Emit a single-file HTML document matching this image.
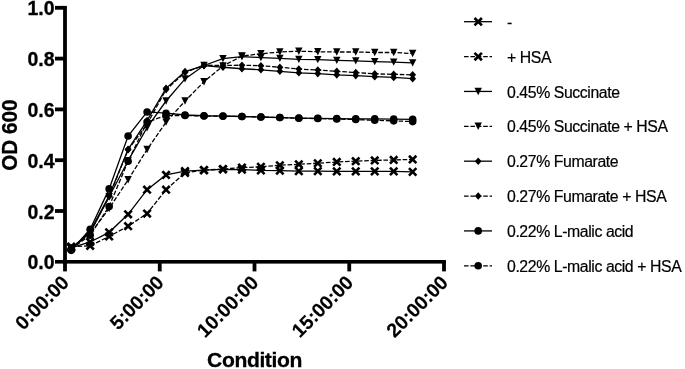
<!DOCTYPE html>
<html><head><meta charset="utf-8"><title>OD 600 growth curves</title>
<style>html,body{margin:0;padding:0;background:#fff}body{width:685px;height:369px;overflow:hidden}svg{display:block}text{font-family:"Liberation Sans",Arial,Helvetica,sans-serif;fill:#000}.tk{font-weight:bold;font-size:19.5px;stroke:#000;stroke-width:0.3px}.tt{font-weight:bold;font-size:21.5px;stroke:#000;stroke-width:0.3px;letter-spacing:-0.4px}.lg{font-size:15.8px;letter-spacing:-0.4px;stroke:#000;stroke-width:0.2px}.xt{font-weight:bold;font-size:19.5px;stroke:#000;stroke-width:0.15px;letter-spacing:-0.1px}</style></head><body>
<svg width="685" height="369" viewBox="0 0 685 369">
<rect width="685" height="369" fill="#fff"/>
<g fill="#000">
<rect x="63.1" y="5.9" width="3.8" height="265.5"/>
<rect x="63.1" y="260" width="382.8" height="3.6"/>
<rect x="55" y="209.10" width="9" height="3.8"/>
<rect x="55" y="158.30" width="9" height="3.8"/>
<rect x="55" y="107.50" width="9" height="3.8"/>
<rect x="55" y="56.70" width="9" height="3.8"/>
<rect x="55" y="5.90" width="9" height="3.8"/>
<rect x="55" y="260.00" width="9" height="3.6"/>
<rect x="157.85" y="261" width="3.8" height="10.4"/>
<rect x="252.60" y="261" width="3.8" height="10.4"/>
<rect x="347.35" y="261" width="3.8" height="10.4"/>
<rect x="442.10" y="261" width="3.8" height="10.4"/>
</g>
<text class="tk" x="54.6" y="269.30" text-anchor="end">0.0</text>
<text class="tk" x="54.6" y="218.50" text-anchor="end">0.2</text>
<text class="tk" x="54.6" y="167.70" text-anchor="end">0.4</text>
<text class="tk" x="54.6" y="116.90" text-anchor="end">0.6</text>
<text class="tk" x="54.6" y="66.10" text-anchor="end">0.8</text>
<text class="tk" x="54.6" y="15.30" text-anchor="end">1.0</text>
<text class="xt" transform="translate(70.20 283.9) rotate(-45)" text-anchor="end">0:00:00</text>
<text class="xt" transform="translate(164.95 283.9) rotate(-45)" text-anchor="end">5:00:00</text>
<text class="xt" transform="translate(259.70 283.9) rotate(-45)" text-anchor="end">10:00:00</text>
<text class="xt" transform="translate(354.45 283.9) rotate(-45)" text-anchor="end">15:00:00</text>
<text class="xt" transform="translate(449.20 283.9) rotate(-45)" text-anchor="end">20:00:00</text>
<text class="tt" style="font-size:22.4px;letter-spacing:0" transform="translate(16.9 135.1) rotate(-90) scale(0.925 1)" text-anchor="middle">OD 600</text>
<text class="tt" style="font-size:21.1px" x="254.5" y="366.7" text-anchor="middle">Condition</text>
<polyline points="71.20,247.83 90.17,241.99 109.14,232.34 128.11,214.30 147.08,189.66 166.05,174.93 185.02,171.12 203.99,170.11 222.96,169.34 241.93,169.60 260.90,170.36 279.87,170.61 298.84,171.12 317.81,171.12 336.78,171.38 355.75,171.38 374.72,171.38 393.69,171.38 412.66,171.88" fill="none" stroke="#000" stroke-width="1.3"/>
<g><path d="M67.50 244.13L74.90 251.53M67.50 251.53L74.90 244.13" stroke="#000" stroke-width="2.6" fill="none"/><path d="M86.47 238.29L93.87 245.69M86.47 245.69L93.87 238.29" stroke="#000" stroke-width="2.6" fill="none"/><path d="M105.44 228.64L112.84 236.04M105.44 236.04L112.84 228.64" stroke="#000" stroke-width="2.6" fill="none"/><path d="M124.41 210.60L131.81 218.00M124.41 218.00L131.81 210.60" stroke="#000" stroke-width="2.6" fill="none"/><path d="M143.38 185.96L150.78 193.36M143.38 193.36L150.78 185.96" stroke="#000" stroke-width="2.6" fill="none"/><path d="M162.35 171.23L169.75 178.63M162.35 178.63L169.75 171.23" stroke="#000" stroke-width="2.6" fill="none"/><path d="M181.32 167.42L188.72 174.82M181.32 174.82L188.72 167.42" stroke="#000" stroke-width="2.6" fill="none"/><path d="M200.29 166.41L207.69 173.81M200.29 173.81L207.69 166.41" stroke="#000" stroke-width="2.6" fill="none"/><path d="M219.26 165.64L226.66 173.04M219.26 173.04L226.66 165.64" stroke="#000" stroke-width="2.6" fill="none"/><path d="M238.23 165.90L245.63 173.30M238.23 173.30L245.63 165.90" stroke="#000" stroke-width="2.6" fill="none"/><path d="M257.20 166.66L264.60 174.06M257.20 174.06L264.60 166.66" stroke="#000" stroke-width="2.6" fill="none"/><path d="M276.17 166.91L283.57 174.31M276.17 174.31L283.57 166.91" stroke="#000" stroke-width="2.6" fill="none"/><path d="M295.14 167.42L302.54 174.82M295.14 174.82L302.54 167.42" stroke="#000" stroke-width="2.6" fill="none"/><path d="M314.11 167.42L321.51 174.82M314.11 174.82L321.51 167.42" stroke="#000" stroke-width="2.6" fill="none"/><path d="M333.08 167.68L340.48 175.08M333.08 175.08L340.48 167.68" stroke="#000" stroke-width="2.6" fill="none"/><path d="M352.05 167.68L359.45 175.08M352.05 175.08L359.45 167.68" stroke="#000" stroke-width="2.6" fill="none"/><path d="M371.02 167.68L378.42 175.08M371.02 175.08L378.42 167.68" stroke="#000" stroke-width="2.6" fill="none"/><path d="M389.99 167.68L397.39 175.08M389.99 175.08L397.39 167.68" stroke="#000" stroke-width="2.6" fill="none"/><path d="M408.96 168.18L416.36 175.58M408.96 175.58L416.36 168.18" stroke="#000" stroke-width="2.6" fill="none"/></g>
<polyline points="71.20,246.56 90.17,245.80 109.14,236.40 128.11,226.24 147.08,213.54 166.05,189.66 185.02,172.90 203.99,170.11 222.96,169.09 241.93,167.57 260.90,166.80 279.87,165.28 298.84,164.26 317.81,163.25 336.78,161.98 355.75,161.22 374.72,160.45 393.69,159.95 412.66,159.44" fill="none" stroke="#000" stroke-width="1.3" stroke-dasharray="4.6 1.8"/>
<g><path d="M67.50 242.86L74.90 250.26M67.50 250.26L74.90 242.86" stroke="#000" stroke-width="2.6" fill="none"/><path d="M86.47 242.10L93.87 249.50M86.47 249.50L93.87 242.10" stroke="#000" stroke-width="2.6" fill="none"/><path d="M105.44 232.70L112.84 240.10M105.44 240.10L112.84 232.70" stroke="#000" stroke-width="2.6" fill="none"/><path d="M124.41 222.54L131.81 229.94M124.41 229.94L131.81 222.54" stroke="#000" stroke-width="2.6" fill="none"/><path d="M143.38 209.84L150.78 217.24M143.38 217.24L150.78 209.84" stroke="#000" stroke-width="2.6" fill="none"/><path d="M162.35 185.96L169.75 193.36M162.35 193.36L169.75 185.96" stroke="#000" stroke-width="2.6" fill="none"/><path d="M181.32 169.20L188.72 176.60M181.32 176.60L188.72 169.20" stroke="#000" stroke-width="2.6" fill="none"/><path d="M200.29 166.41L207.69 173.81M200.29 173.81L207.69 166.41" stroke="#000" stroke-width="2.6" fill="none"/><path d="M219.26 165.39L226.66 172.79M219.26 172.79L226.66 165.39" stroke="#000" stroke-width="2.6" fill="none"/><path d="M238.23 163.87L245.63 171.27M238.23 171.27L245.63 163.87" stroke="#000" stroke-width="2.6" fill="none"/><path d="M257.20 163.10L264.60 170.50M257.20 170.50L264.60 163.10" stroke="#000" stroke-width="2.6" fill="none"/><path d="M276.17 161.58L283.57 168.98M276.17 168.98L283.57 161.58" stroke="#000" stroke-width="2.6" fill="none"/><path d="M295.14 160.56L302.54 167.96M295.14 167.96L302.54 160.56" stroke="#000" stroke-width="2.6" fill="none"/><path d="M314.11 159.55L321.51 166.95M314.11 166.95L321.51 159.55" stroke="#000" stroke-width="2.6" fill="none"/><path d="M333.08 158.28L340.48 165.68M333.08 165.68L340.48 158.28" stroke="#000" stroke-width="2.6" fill="none"/><path d="M352.05 157.52L359.45 164.92M352.05 164.92L359.45 157.52" stroke="#000" stroke-width="2.6" fill="none"/><path d="M371.02 156.75L378.42 164.15M371.02 164.15L378.42 156.75" stroke="#000" stroke-width="2.6" fill="none"/><path d="M389.99 156.25L397.39 163.65M389.99 163.65L397.39 156.25" stroke="#000" stroke-width="2.6" fill="none"/><path d="M408.96 155.74L416.36 163.14M408.96 163.14L416.36 155.74" stroke="#000" stroke-width="2.6" fill="none"/></g>
<polyline points="71.20,249.10 90.17,232.59 109.14,196.78 128.11,160.71 147.08,127.69 166.05,101.02 185.02,78.92 203.99,65.46 222.96,58.60 241.93,56.57 260.90,57.58 279.87,58.35 298.84,59.36 317.81,59.62 336.78,60.38 355.75,60.89 374.72,61.65 393.69,62.16 412.66,62.92" fill="none" stroke="#000" stroke-width="1.3"/>
<g><path d="M67.50 245.40L74.90 245.40L71.20 252.80Z" fill="#000"/><path d="M86.47 228.89L93.87 228.89L90.17 236.29Z" fill="#000"/><path d="M105.44 193.08L112.84 193.08L109.14 200.48Z" fill="#000"/><path d="M124.41 157.01L131.81 157.01L128.11 164.41Z" fill="#000"/><path d="M143.38 123.99L150.78 123.99L147.08 131.39Z" fill="#000"/><path d="M162.35 97.32L169.75 97.32L166.05 104.72Z" fill="#000"/><path d="M181.32 75.22L188.72 75.22L185.02 82.62Z" fill="#000"/><path d="M200.29 61.76L207.69 61.76L203.99 69.16Z" fill="#000"/><path d="M219.26 54.90L226.66 54.90L222.96 62.30Z" fill="#000"/><path d="M238.23 52.87L245.63 52.87L241.93 60.27Z" fill="#000"/><path d="M257.20 53.88L264.60 53.88L260.90 61.28Z" fill="#000"/><path d="M276.17 54.65L283.57 54.65L279.87 62.05Z" fill="#000"/><path d="M295.14 55.66L302.54 55.66L298.84 63.06Z" fill="#000"/><path d="M314.11 55.92L321.51 55.92L317.81 63.32Z" fill="#000"/><path d="M333.08 56.68L340.48 56.68L336.78 64.08Z" fill="#000"/><path d="M352.05 57.19L359.45 57.19L355.75 64.59Z" fill="#000"/><path d="M371.02 57.95L378.42 57.95L374.72 65.35Z" fill="#000"/><path d="M389.99 58.46L397.39 58.46L393.69 65.86Z" fill="#000"/><path d="M408.96 59.22L416.36 59.22L412.66 66.62Z" fill="#000"/></g>
<polyline points="71.20,247.83 90.17,233.86 109.14,208.46 128.11,179.76 147.08,149.53 166.05,122.10 185.02,101.02 203.99,81.71 222.96,65.97 241.93,56.06 260.90,53.77 279.87,52.00 298.84,51.23 317.81,51.74 336.78,52.00 355.75,52.00 374.72,52.50 393.69,52.50 412.66,53.52" fill="none" stroke="#000" stroke-width="1.3" stroke-dasharray="4.6 1.8"/>
<g><path d="M67.50 244.13L74.90 244.13L71.20 251.53Z" fill="#000"/><path d="M86.47 230.16L93.87 230.16L90.17 237.56Z" fill="#000"/><path d="M105.44 204.76L112.84 204.76L109.14 212.16Z" fill="#000"/><path d="M124.41 176.06L131.81 176.06L128.11 183.46Z" fill="#000"/><path d="M143.38 145.83L150.78 145.83L147.08 153.23Z" fill="#000"/><path d="M162.35 118.40L169.75 118.40L166.05 125.80Z" fill="#000"/><path d="M181.32 97.32L188.72 97.32L185.02 104.72Z" fill="#000"/><path d="M200.29 78.01L207.69 78.01L203.99 85.41Z" fill="#000"/><path d="M219.26 62.27L226.66 62.27L222.96 69.67Z" fill="#000"/><path d="M238.23 52.36L245.63 52.36L241.93 59.76Z" fill="#000"/><path d="M257.20 50.07L264.60 50.07L260.90 57.47Z" fill="#000"/><path d="M276.17 48.30L283.57 48.30L279.87 55.70Z" fill="#000"/><path d="M295.14 47.53L302.54 47.53L298.84 54.93Z" fill="#000"/><path d="M314.11 48.04L321.51 48.04L317.81 55.44Z" fill="#000"/><path d="M333.08 48.30L340.48 48.30L336.78 55.70Z" fill="#000"/><path d="M352.05 48.30L359.45 48.30L355.75 55.70Z" fill="#000"/><path d="M371.02 48.80L378.42 48.80L374.72 56.20Z" fill="#000"/><path d="M389.99 48.80L397.39 48.80L393.69 56.20Z" fill="#000"/><path d="M408.96 49.82L416.36 49.82L412.66 57.22Z" fill="#000"/></g>
<polyline points="71.20,249.10 90.17,231.32 109.14,195.76 128.11,149.28 147.08,120.58 166.05,88.32 185.02,71.55 203.99,65.71 222.96,67.24 241.93,68.76 260.90,69.78 279.87,71.30 298.84,72.82 317.81,73.59 336.78,74.86 355.75,75.62 374.72,76.63 393.69,77.40 412.66,78.67" fill="none" stroke="#000" stroke-width="1.3"/>
<g><path d="M71.20 245.30L74.60 249.10L71.20 252.90L67.80 249.10Z" fill="#000"/><path d="M90.17 227.52L93.57 231.32L90.17 235.12L86.77 231.32Z" fill="#000"/><path d="M109.14 191.96L112.54 195.76L109.14 199.56L105.74 195.76Z" fill="#000"/><path d="M128.11 145.48L131.51 149.28L128.11 153.08L124.71 149.28Z" fill="#000"/><path d="M147.08 116.78L150.48 120.58L147.08 124.38L143.68 120.58Z" fill="#000"/><path d="M166.05 84.52L169.45 88.32L166.05 92.12L162.65 88.32Z" fill="#000"/><path d="M185.02 67.75L188.42 71.55L185.02 75.35L181.62 71.55Z" fill="#000"/><path d="M203.99 61.91L207.39 65.71L203.99 69.51L200.59 65.71Z" fill="#000"/><path d="M222.96 63.44L226.36 67.24L222.96 71.04L219.56 67.24Z" fill="#000"/><path d="M241.93 64.96L245.33 68.76L241.93 72.56L238.53 68.76Z" fill="#000"/><path d="M260.90 65.98L264.30 69.78L260.90 73.58L257.50 69.78Z" fill="#000"/><path d="M279.87 67.50L283.27 71.30L279.87 75.10L276.47 71.30Z" fill="#000"/><path d="M298.84 69.02L302.24 72.82L298.84 76.62L295.44 72.82Z" fill="#000"/><path d="M317.81 69.79L321.21 73.59L317.81 77.39L314.41 73.59Z" fill="#000"/><path d="M336.78 71.06L340.18 74.86L336.78 78.66L333.38 74.86Z" fill="#000"/><path d="M355.75 71.82L359.15 75.62L355.75 79.42L352.35 75.62Z" fill="#000"/><path d="M374.72 72.83L378.12 76.63L374.72 80.43L371.32 76.63Z" fill="#000"/><path d="M393.69 73.60L397.09 77.40L393.69 81.20L390.29 77.40Z" fill="#000"/><path d="M412.66 74.87L416.06 78.67L412.66 82.47L409.26 78.67Z" fill="#000"/></g>
<polyline points="71.20,247.83 90.17,232.59 109.14,196.52 128.11,149.79 147.08,124.13 166.05,89.59 185.02,72.57 203.99,65.20 222.96,65.46 241.93,65.20 260.90,65.71 279.87,67.24 298.84,69.01 317.81,70.03 336.78,71.30 355.75,72.57 374.72,73.84 393.69,74.35 412.66,74.86" fill="none" stroke="#000" stroke-width="1.3" stroke-dasharray="4.6 1.8"/>
<g><path d="M71.20 244.03L74.60 247.83L71.20 251.63L67.80 247.83Z" fill="#000"/><path d="M90.17 228.79L93.57 232.59L90.17 236.39L86.77 232.59Z" fill="#000"/><path d="M109.14 192.72L112.54 196.52L109.14 200.32L105.74 196.52Z" fill="#000"/><path d="M128.11 145.99L131.51 149.79L128.11 153.59L124.71 149.79Z" fill="#000"/><path d="M147.08 120.33L150.48 124.13L147.08 127.93L143.68 124.13Z" fill="#000"/><path d="M166.05 85.79L169.45 89.59L166.05 93.39L162.65 89.59Z" fill="#000"/><path d="M185.02 68.77L188.42 72.57L185.02 76.37L181.62 72.57Z" fill="#000"/><path d="M203.99 61.40L207.39 65.20L203.99 69.00L200.59 65.20Z" fill="#000"/><path d="M222.96 61.66L226.36 65.46L222.96 69.26L219.56 65.46Z" fill="#000"/><path d="M241.93 61.40L245.33 65.20L241.93 69.00L238.53 65.20Z" fill="#000"/><path d="M260.90 61.91L264.30 65.71L260.90 69.51L257.50 65.71Z" fill="#000"/><path d="M279.87 63.44L283.27 67.24L279.87 71.04L276.47 67.24Z" fill="#000"/><path d="M298.84 65.21L302.24 69.01L298.84 72.81L295.44 69.01Z" fill="#000"/><path d="M317.81 66.23L321.21 70.03L317.81 73.83L314.41 70.03Z" fill="#000"/><path d="M336.78 67.50L340.18 71.30L336.78 75.10L333.38 71.30Z" fill="#000"/><path d="M355.75 68.77L359.15 72.57L355.75 76.37L352.35 72.57Z" fill="#000"/><path d="M374.72 70.04L378.12 73.84L374.72 77.64L371.32 73.84Z" fill="#000"/><path d="M393.69 70.55L397.09 74.35L393.69 78.15L390.29 74.35Z" fill="#000"/><path d="M412.66 71.06L416.06 74.86L412.66 78.66L409.26 74.86Z" fill="#000"/></g>
<polyline points="71.20,250.37 90.17,229.29 109.14,188.90 128.11,136.07 147.08,111.94 166.05,113.21 185.02,114.99 203.99,115.75 222.96,116.00 241.93,116.51 260.90,117.02 279.87,117.53 298.84,118.04 317.81,118.29 336.78,118.54 355.75,118.80 374.72,118.80 393.69,119.05 412.66,119.31" fill="none" stroke="#000" stroke-width="1.3"/>
<g><circle cx="71.20" cy="250.37" r="3.8" fill="#000"/><circle cx="90.17" cy="229.29" r="3.8" fill="#000"/><circle cx="109.14" cy="188.90" r="3.8" fill="#000"/><circle cx="128.11" cy="136.07" r="3.8" fill="#000"/><circle cx="147.08" cy="111.94" r="3.8" fill="#000"/><circle cx="166.05" cy="113.21" r="3.8" fill="#000"/><circle cx="185.02" cy="114.99" r="3.8" fill="#000"/><circle cx="203.99" cy="115.75" r="3.8" fill="#000"/><circle cx="222.96" cy="116.00" r="3.8" fill="#000"/><circle cx="241.93" cy="116.51" r="3.8" fill="#000"/><circle cx="260.90" cy="117.02" r="3.8" fill="#000"/><circle cx="279.87" cy="117.53" r="3.8" fill="#000"/><circle cx="298.84" cy="118.04" r="3.8" fill="#000"/><circle cx="317.81" cy="118.29" r="3.8" fill="#000"/><circle cx="336.78" cy="118.54" r="3.8" fill="#000"/><circle cx="355.75" cy="118.80" r="3.8" fill="#000"/><circle cx="374.72" cy="118.80" r="3.8" fill="#000"/><circle cx="393.69" cy="119.05" r="3.8" fill="#000"/><circle cx="412.66" cy="119.31" r="3.8" fill="#000"/></g>
<polyline points="71.20,249.10 90.17,235.13 109.14,206.43 128.11,161.22 147.08,122.10 166.05,115.50 185.02,115.50 203.99,116.00 222.96,116.26 241.93,116.51 260.90,117.02 279.87,117.53 298.84,118.29 317.81,118.54 336.78,119.05 355.75,119.56 374.72,120.32 393.69,120.83 412.66,121.59" fill="none" stroke="#000" stroke-width="1.3" stroke-dasharray="4.6 1.8"/>
<g><circle cx="71.20" cy="249.10" r="3.8" fill="#000"/><circle cx="90.17" cy="235.13" r="3.8" fill="#000"/><circle cx="109.14" cy="206.43" r="3.8" fill="#000"/><circle cx="128.11" cy="161.22" r="3.8" fill="#000"/><circle cx="147.08" cy="122.10" r="3.8" fill="#000"/><circle cx="166.05" cy="115.50" r="3.8" fill="#000"/><circle cx="185.02" cy="115.50" r="3.8" fill="#000"/><circle cx="203.99" cy="116.00" r="3.8" fill="#000"/><circle cx="222.96" cy="116.26" r="3.8" fill="#000"/><circle cx="241.93" cy="116.51" r="3.8" fill="#000"/><circle cx="260.90" cy="117.02" r="3.8" fill="#000"/><circle cx="279.87" cy="117.53" r="3.8" fill="#000"/><circle cx="298.84" cy="118.29" r="3.8" fill="#000"/><circle cx="317.81" cy="118.54" r="3.8" fill="#000"/><circle cx="336.78" cy="119.05" r="3.8" fill="#000"/><circle cx="355.75" cy="119.56" r="3.8" fill="#000"/><circle cx="374.72" cy="120.32" r="3.8" fill="#000"/><circle cx="393.69" cy="120.83" r="3.8" fill="#000"/><circle cx="412.66" cy="121.59" r="3.8" fill="#000"/></g>
<line x1="464" y1="21.70" x2="492" y2="21.70" stroke="#000" stroke-width="1.3"/>
<path d="M474.50 18.00L481.90 25.40M474.50 25.40L481.90 18.00" stroke="#000" stroke-width="2.6" fill="none"/>
<text class="lg" x="507" y="27.80">-</text>
<line x1="464" y1="56.57" x2="492" y2="56.57" stroke="#000" stroke-width="1.3" stroke-dasharray="4.6 1.8"/>
<path d="M474.50 52.87L481.90 60.27M474.50 60.27L481.90 52.87" stroke="#000" stroke-width="2.6" fill="none"/>
<text class="lg" x="507" y="62.67">+ HSA</text>
<line x1="464" y1="91.44" x2="492" y2="91.44" stroke="#000" stroke-width="1.3"/>
<path d="M474.50 87.74L481.90 87.74L478.20 95.14Z" fill="#000"/>
<text class="lg" x="507" y="97.54">0.45% Succinate</text>
<line x1="464" y1="126.31" x2="492" y2="126.31" stroke="#000" stroke-width="1.3" stroke-dasharray="4.6 1.8"/>
<path d="M474.50 122.61L481.90 122.61L478.20 130.01Z" fill="#000"/>
<text class="lg" x="507" y="132.41">0.45% Succinate + HSA</text>
<line x1="464" y1="161.18" x2="492" y2="161.18" stroke="#000" stroke-width="1.3"/>
<path d="M478.20 157.38L481.60 161.18L478.20 164.98L474.80 161.18Z" fill="#000"/>
<text class="lg" x="507" y="167.28">0.27% Fumarate</text>
<line x1="464" y1="196.05" x2="492" y2="196.05" stroke="#000" stroke-width="1.3" stroke-dasharray="4.6 1.8"/>
<path d="M478.20 192.25L481.60 196.05L478.20 199.85L474.80 196.05Z" fill="#000"/>
<text class="lg" x="507" y="202.15">0.27% Fumarate + HSA</text>
<line x1="464" y1="230.92" x2="492" y2="230.92" stroke="#000" stroke-width="1.3"/>
<circle cx="478.20" cy="230.92" r="3.8" fill="#000"/>
<text class="lg" x="507" y="237.02">0.22% L-malic acid</text>
<line x1="464" y1="265.79" x2="492" y2="265.79" stroke="#000" stroke-width="1.3" stroke-dasharray="4.6 1.8"/>
<circle cx="478.20" cy="265.79" r="3.8" fill="#000"/>
<text class="lg" x="507" y="271.89">0.22% L-malic acid + HSA</text>
</svg></body></html>
